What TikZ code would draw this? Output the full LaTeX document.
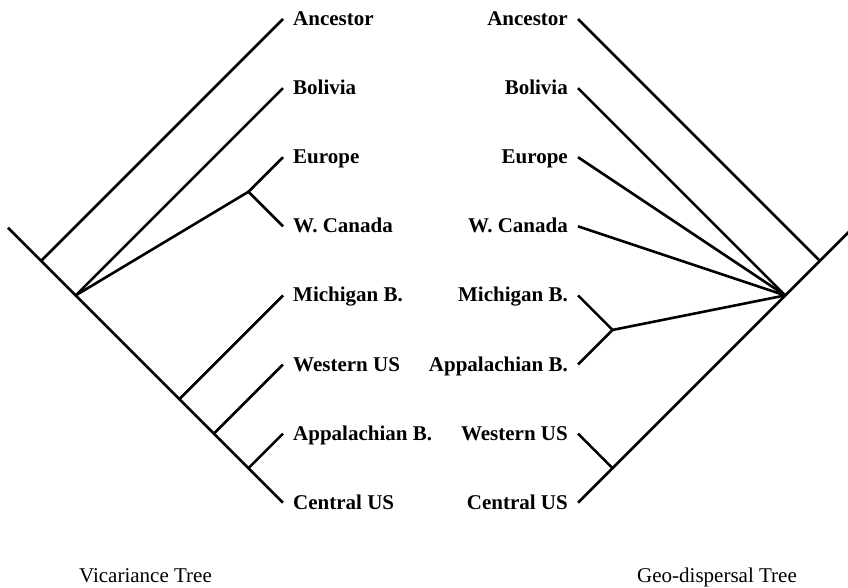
\documentclass[tikz,border=0pt]{standalone}
\usepackage{fontspec}
\setmainfont{Liberation Serif}
\begin{document}
\begin{tikzpicture}[x=1pt,y=-1pt,
  branch/.style={line width=2.6pt,line cap=butt,line join=miter},
  taxon/.style={font=\fontsize{21}{25}\selectfont\bfseries,inner sep=0pt},
  caption/.style={font=\fontsize{21}{25}\selectfont,inner sep=0pt,anchor=base}]
\useasboundingbox (0,0) rectangle (848,587);

% ---------- Vicariance tree (left) ----------
\coordinate (vRoot) at (8,227.7);
\coordinate (vEnd)  at (283,502.7);
\coordinate (vA)  at (41.15,260.85);
\coordinate (vH)  at (75.7,295.4);
\coordinate (vEW) at (248.45,191.75);
\coordinate (vM)  at (179.35,399.05);
\coordinate (vW)  at (213.9,433.6);
\coordinate (vP)  at (248.45,468.15);

\coordinate (tAnc) at (283,19);
\coordinate (tBol) at (283,88.1);
\coordinate (tEur) at (283,157.2);
\coordinate (tWCa) at (283,226.3);
\coordinate (tMic) at (283,295.4);
\coordinate (tWUS) at (283,364.5);
\coordinate (tApp) at (283,433.6);

\draw[branch] (vRoot) -- (vEnd);
\draw[branch] (vA) -- (tAnc);
\draw[branch] (vH) -- (tBol);
\draw[branch] (vH) -- (vEW);
\draw[branch] (tEur) -- (vEW) -- (tWCa);
\draw[branch] (vM) -- (tMic);
\draw[branch] (vW) -- (tWUS);
\draw[branch] (vP) -- (tApp);

\node[taxon,anchor=base west] (lAnc) at (293,25.5)  {Ancestor};
\node[taxon,anchor=base west] (lBol) at (293,94.6)  {Bolivia};
\node[taxon,anchor=base west] (lEur) at (293,163.7) {Europe};
\node[taxon,anchor=base west] (lWCa) at (293,232.8) {W. Canada};
\node[taxon,anchor=base west] (lMic) at (293,301.9) {Michigan B.};
\node[taxon,anchor=base west] (lWUS) at (293,371)   {Western US};
\node[taxon,anchor=base west] (lApp) at (293,440.1) {Appalachian B.};
\node[taxon,anchor=base west] (lCUS) at (293,509.2) {Central US};

% ---------- Geo-dispersal tree (right) ----------
\coordinate (gEnd)  at (578,502.7);
\coordinate (gRoot) at (853,227.7);
\coordinate (gA)  at (819.85,260.85);
\coordinate (gH)  at (785.3,295.4);
\coordinate (gMA) at (612.55,329.95);
\coordinate (gWC) at (612.55,468.15);

\coordinate (sAnc) at (578,19);
\coordinate (sBol) at (578,88.1);
\coordinate (sEur) at (578,157.2);
\coordinate (sWCa) at (578,226.3);
\coordinate (sMic) at (578,295.4);
\coordinate (sApp) at (578,364.5);
\coordinate (sWUS) at (578,433.6);

\draw[branch] (gEnd) -- (gRoot);
\draw[branch] (gA) -- (sAnc);
\draw[branch] (gH) -- (sBol);
\draw[branch] (gH) -- (sEur);
\draw[branch] (gH) -- (sWCa);
\draw[branch] (gH) -- (gMA);
\draw[branch] (sMic) -- (gMA) -- (sApp);
\draw[branch] (gWC) -- (sWUS);

\node[taxon,anchor=base east] (rAnc) at (568,25.5)  {Ancestor};
\node[taxon,anchor=base east] (rBol) at (568,94.6)  {Bolivia};
\node[taxon,anchor=base east] (rEur) at (568,163.7) {Europe};
\node[taxon,anchor=base east] (rWCa) at (568,232.8) {W. Canada};
\node[taxon,anchor=base east] (rMic) at (568,301.9) {Michigan B.};
\node[taxon,anchor=base east] (rApp) at (568,371)   {Appalachian B.};
\node[taxon,anchor=base east] (rWUS) at (568,440.1) {Western US};
\node[taxon,anchor=base east] (rCUS) at (568,509.2) {Central US};

% ---------- captions ----------
\node[caption] (capV) at (145.5,582) {Vicariance Tree};
\node[caption] (capG) at (717,582) {Geo-dispersal Tree};
\end{tikzpicture}
\end{document}
